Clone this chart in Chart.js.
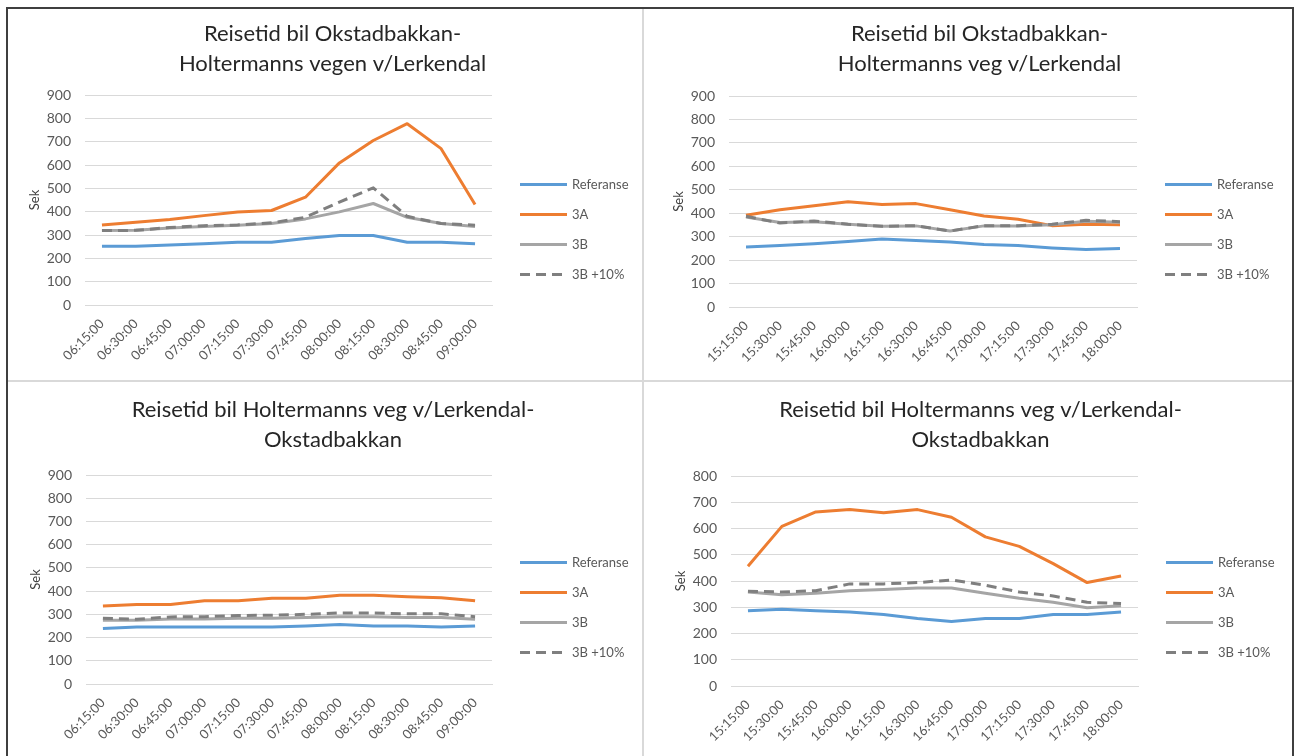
<!DOCTYPE html>
<html>
<head>
<meta charset="utf-8">
<script src="https://cdn.jsdelivr.net/npm/chart.js@4.4.1/dist/chart.umd.min.js"></script>
<style>
  html, body { margin: 0; padding: 0; background: #fff; width: 1294px; height: 756px; overflow: hidden; }
  .frame { position: absolute; left: 6px; top: 7px; width: 1284px; height: 760px; border: 2px solid #3f3f3f; border-bottom: none; }
  .vdiv { position: absolute; left: 642px; top: 9px; width: 2px; height: 747px; background: #d9d9d9; }
  .hdiv { position: absolute; left: 8px; top: 380px; width: 1284px; height: 2px; background: #d9d9d9; }
  canvas { position: absolute; }
</style>
</head>
<body>
<div class="frame"></div>
<div class="vdiv"></div>
<div class="hdiv"></div>
<canvas id="amNorth" width="634" height="371" style="left:8px;top:9px"></canvas>
<canvas id="pmNorth" width="648" height="371" style="left:644px;top:9px"></canvas>
<canvas id="amSouth" width="634" height="374" style="left:8px;top:382px"></canvas>
<canvas id="pmSouth" width="648" height="374" style="left:644px;top:382px"></canvas>
<script>
// Reisetid (sek) per kvarter, fire scenarier
const morningTimes = ['06:15:00', '06:30:00', '06:45:00', '07:00:00', '07:15:00', '07:30:00',
  '07:45:00', '08:00:00', '08:15:00', '08:30:00', '08:45:00', '09:00:00'];
const afternoonTimes = ['15:15:00', '15:30:00', '15:45:00', '16:00:00', '16:15:00', '16:30:00',
  '16:45:00', '17:00:00', '17:15:00', '17:30:00', '17:45:00', '18:00:00'];
const seriesNames = ['Referanse', '3A', '3B', '3B +10%'];

// Okstadbakkan -> Holtermanns veg, morgen
const amNorthRef = [252, 252, 257, 263, 269, 269, 285, 298, 298, 269, 269, 263];
const amNorth3A = [343, 355, 366, 383, 399, 405, 462, 609, 705, 777, 670, 431];
const amNorth3B = [319, 320, 330, 336, 342, 349, 369, 399, 435, 376, 349, 336];
const amNorth3B10 = [319, 320, 332, 340, 343, 352, 376, 441, 502, 380, 349, 342];

// Okstadbakkan -> Holtermanns veg, ettermiddag
const pmNorthRef = [256, 262, 270, 279, 290, 284, 277, 267, 262, 252, 245, 249];
const pmNorth3A = [391, 415, 432, 449, 437, 441, 415, 388, 374, 347, 353, 351];
const pmNorth3B = [384, 360, 364, 353, 344, 346, 324, 346, 346, 351, 366, 361];
const pmNorth3B10 = [387, 358, 367, 353, 344, 347, 324, 347, 347, 353, 370, 364];

// Holtermanns veg -> Okstadbakkan, morgen
const amSouthRef = [239, 245, 245, 245, 245, 245, 250, 256, 250, 250, 245, 250];
const amSouth3A = [336, 342, 342, 358, 358, 369, 369, 382, 382, 376, 371, 358];
const amSouth3B = [275, 275, 280, 280, 283, 283, 286, 290, 290, 286, 286, 279];
const amSouth3B10 = [283, 279, 289, 290, 295, 296, 300, 306, 306, 302, 302, 290];

// Holtermanns veg -> Okstadbakkan, ettermiddag
const pmSouthRef = [287, 292, 287, 282, 272, 257, 246, 257, 257, 272, 272, 282];
const pmSouth3A = [456, 608, 663, 672, 660, 672, 643, 568, 532, 466, 394, 419];
const pmSouth3B = [358, 348, 353, 363, 368, 373, 373, 353, 334, 319, 298, 306];
const pmSouth3B10 = [361, 358, 363, 389, 389, 394, 404, 384, 358, 343, 319, 314];

const LINE_COLORS = ['#5b9bd5', '#ed7d31', '#a5a5a5', '#7f7f7f'];
const TICK_COLOR = '#595959';
const GRID = '#d9d9d9';

Chart.defaults.font.family = "Lato, 'Open Sans', sans-serif";
Chart.defaults.animation = false;

// legend drawn beside the plot, line sample + label, centred below the title
const sideLegend = {
  id: 'sideLegend',
  afterDraw(chart, _args, opts) {
    const { ctx, chartArea } = chart;
    const sets = chart.data.datasets;
    const top = chart.titleBlock ? chart.titleBlock.bottom : 0;
    const midY = (top + chart.height) / 2 + opts.shiftY;
    const x0 = chartArea.right + opts.gap;
    ctx.save();
    ctx.font = "13px Lato, sans-serif";
    ctx.textBaseline = 'middle';
    ctx.textAlign = 'left';
    sets.forEach((ds, i) => {
      const y = Math.round(midY + (i - (sets.length - 1) / 2) * opts.spacing) + 0.5;
      ctx.strokeStyle = ds.borderColor;
      ctx.lineWidth = ds.borderWidth;
      ctx.setLineDash(ds.borderDash || []);
      ctx.beginPath();
      ctx.moveTo(x0, y);
      ctx.lineTo(x0 + opts.sample, y);
      ctx.stroke();
      ctx.setLineDash([]);
      ctx.fillStyle = TICK_COLOR;
      ctx.fillText(ds.label, x0 + opts.sample + 5, y);
    });
    ctx.restore();
  }
};

function buildSets(values) {
  return values.map((data, i) => ({
    label: seriesNames[i],
    data,
    borderColor: LINE_COLORS[i],
    backgroundColor: LINE_COLORS[i],
    borderWidth: 3,
    borderDash: i === 3 ? [10, 6] : [],
    pointRadius: 0,
    tension: 0,
    borderJoinStyle: 'round',
    borderCapStyle: 'butt',
    order: 4 - i,
  }));
}

function renderTravelChart(canvasId, titleLines, labels, values, yMax, pad) {
  const ctx = document.getElementById(canvasId).getContext('2d');
  return new Chart(ctx, {
    type: 'line',
    plugins: [sideLegend],
    data: { labels, datasets: buildSets(values) },
    options: {
      responsive: false,
      layout: { padding: { left: pad.left, right: 0, top: 0, bottom: 0 } },
      plugins: {
        legend: { display: false },
        tooltip: { enabled: false },
        sideLegend: { gap: 28, spacing: 30, sample: 47, shiftY: -9 },
        title: {
          display: true,
          text: titleLines,
          color: '#262626',
          font: { size: 22, weight: 'normal', lineHeight: '30px' },
          padding: { top: pad.titleTop, bottom: pad.titleBottom },
        },
      },
      scales: {
        x: {
          offset: true,
          grid: { display: false, drawTicks: false },
          border: { display: true, color: GRID, width: 1 },
          ticks: { color: TICK_COLOR, font: { size: 13 }, maxRotation: 45, minRotation: 45, padding: 11, autoSkip: false },
          afterFit: (scale) => { scale.height = pad.xAxis; },
        },
        y: {
          min: 0,
          max: yMax,
          grid: { color: GRID, lineWidth: 1, drawTicks: false },
          border: { display: false },
          ticks: { stepSize: 100, color: TICK_COLOR, font: { size: 14 }, padding: 14 },
          title: { display: true, text: 'Sek', color: '#404040', font: { size: 13 }, padding: { top: 4, bottom: 4 } },
          afterFit: (scale) => { scale.width = 62; },
        },
        // empty right-hand axis that keeps room for the legend column
        legendRoom: {
          type: 'linear',
          position: 'right',
          display: true,
          grid: { display: false, drawTicks: false },
          border: { display: false },
          ticks: { display: false },
          afterFit: (scale) => { scale.width = pad.right; },
        },
      },
    },
  });
}

renderTravelChart('amNorth', ['Reisetid bil Okstadbakkan-', 'Holtermanns vegen v/Lerkendal'], morningTimes,
  [amNorthRef, amNorth3A, amNorth3B, amNorth3B10], 900,
  { left: 15, right: 150, xAxis: 75, titleTop: 10, titleBottom: 16 });

renderTravelChart('pmNorth', ['Reisetid bil Okstadbakkan-', 'Holtermanns veg v/Lerkendal'], afternoonTimes,
  [pmNorthRef, pmNorth3A, pmNorth3B, pmNorth3B10], 900,
  { left: 23, right: 155, xAxis: 73, titleTop: 10, titleBottom: 17 });

renderTravelChart('amSouth', ['Reisetid bil Holtermanns veg v/Lerkendal-', 'Okstadbakkan'], morningTimes,
  [amSouthRef, amSouth3A, amSouth3B, amSouth3B10], 900,
  { left: 16, right: 150, xAxis: 72, titleTop: 13, titleBottom: 20 });

renderTravelChart('pmSouth', ['Reisetid bil Holtermanns veg v/Lerkendal-', 'Okstadbakkan'], afternoonTimes,
  [pmSouthRef, pmSouth3A, pmSouth3B, pmSouth3B10], 800,
  { left: 25, right: 154, xAxis: 70, titleTop: 13, titleBottom: 21 });
</script>
</body>
</html>
